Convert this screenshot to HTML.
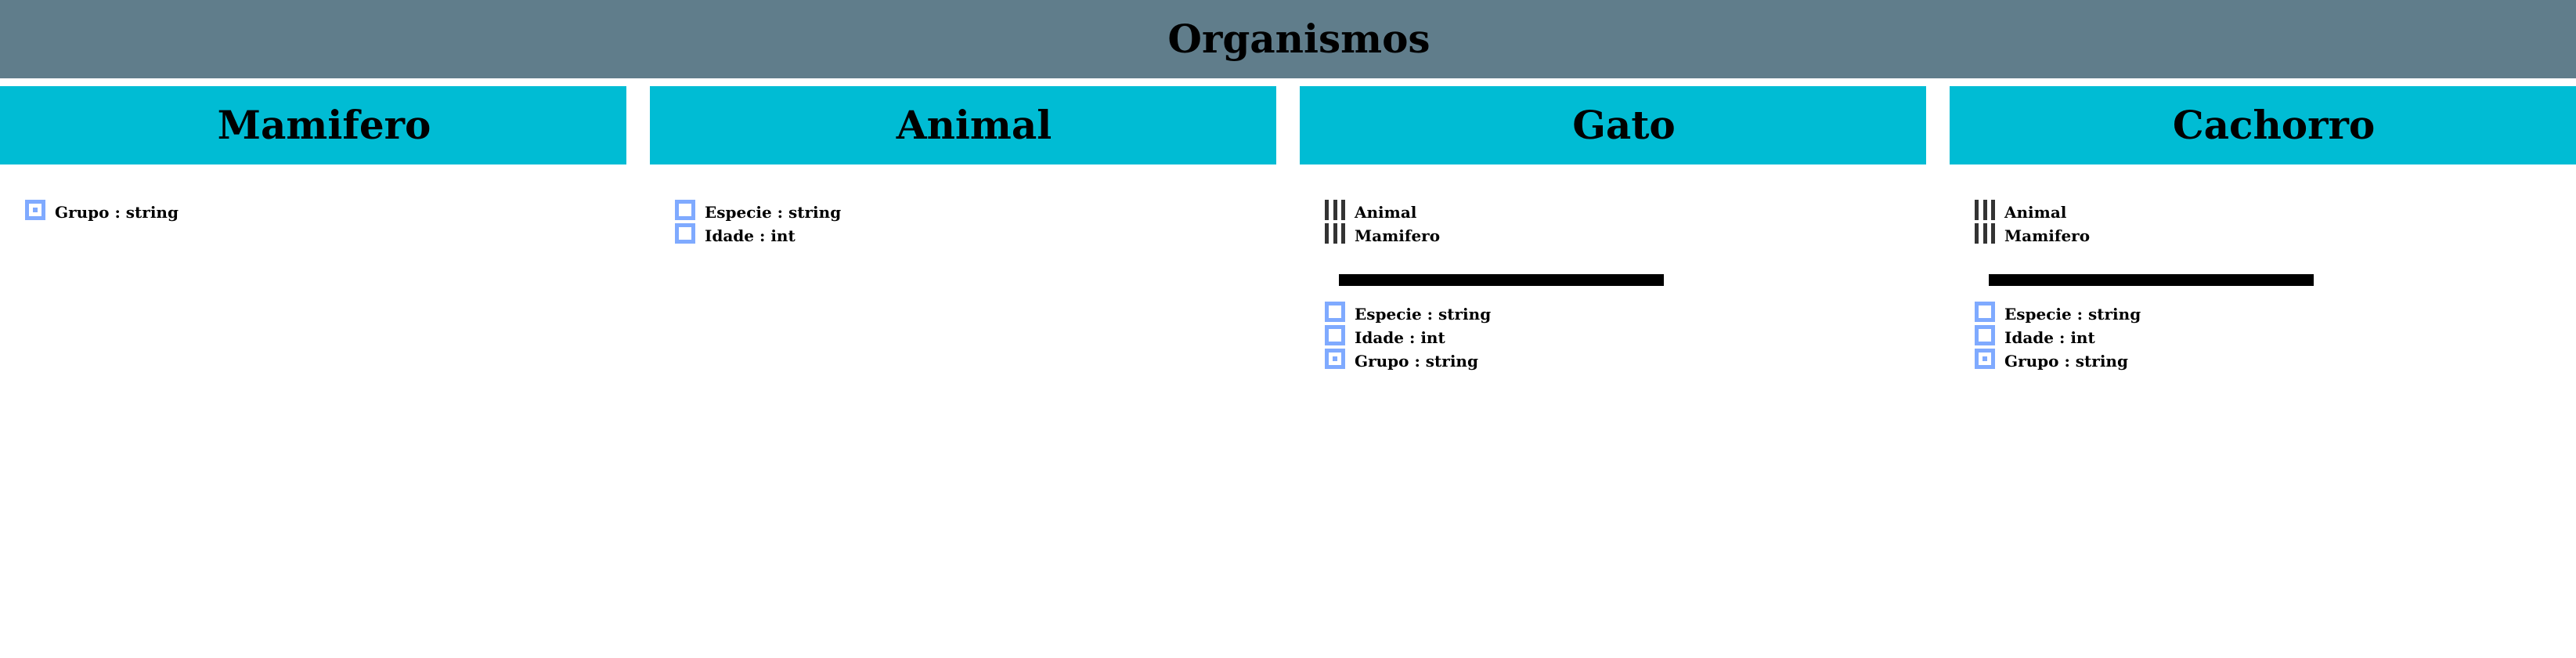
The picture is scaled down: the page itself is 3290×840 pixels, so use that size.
<!DOCTYPE html>
<html><head><meta charset="utf-8"><style>
*{margin:0;padding:0;box-sizing:border-box}
body{width:3290px;height:840px;background:#fff;position:relative;overflow:hidden;font-family:"DejaVu Serif","Liberation Serif",serif}
.top{position:absolute;left:0;top:0;width:3290px;height:100px;background:#607d8b;text-align:center;font-weight:bold;font-size:50px;line-height:100px;color:#000;padding-left:28px}
.card{position:absolute;top:110px;width:800px;height:100px;background:#00bcd4;text-align:center;font-weight:bold;font-size:50px;line-height:100px;color:#000;padding-left:28px}
.row{position:absolute;height:26px;font-size:20px;line-height:26px;color:#000;white-space:nowrap;font-weight:bold}
.row span{position:absolute;left:38px;top:3px}
.cb{position:absolute;left:0;top:0;width:26px;height:26px;border:5px solid #7faaff}
.cb.d::after{content:"";position:absolute;left:5px;top:5px;width:6px;height:6px;background:#7faaff}
.bars{position:absolute;left:0;top:0;width:26px;height:26px}
.bars i{position:absolute;top:0;width:5px;height:26px;background:#333}
.hr{position:absolute;height:15px;background:#000}
</style></head><body>
<div class="top">Organismos</div>
<div class="card" style="left:0">Mamifero</div>
<div class="card" style="left:830px">Animal</div>
<div class="card" style="left:1660px">Gato</div>
<div class="card" style="left:2490px">Cachorro</div>

<div class="row" style="left:32px;top:255px"><div class="cb d"></div><span>Grupo : string</span></div>

<div class="row" style="left:862px;top:255px"><div class="cb"></div><span>Especie : string</span></div>
<div class="row" style="left:862px;top:285px"><div class="cb"></div><span>Idade : int</span></div>

<div class="row" style="left:1692px;top:255px"><div class="bars"><i style="left:0"></i><i style="left:11px"></i><i style="left:21px"></i></div><span>Animal</span></div>
<div class="row" style="left:1692px;top:285px"><div class="bars"><i style="left:0"></i><i style="left:11px"></i><i style="left:21px"></i></div><span>Mamifero</span></div>
<div class="hr" style="left:1710px;top:350px;width:415px"></div>
<div class="row" style="left:1692px;top:385px"><div class="cb"></div><span>Especie : string</span></div>
<div class="row" style="left:1692px;top:415px"><div class="cb"></div><span>Idade : int</span></div>
<div class="row" style="left:1692px;top:445px"><div class="cb d"></div><span>Grupo : string</span></div>

<div class="row" style="left:2522px;top:255px"><div class="bars"><i style="left:0"></i><i style="left:11px"></i><i style="left:21px"></i></div><span>Animal</span></div>
<div class="row" style="left:2522px;top:285px"><div class="bars"><i style="left:0"></i><i style="left:11px"></i><i style="left:21px"></i></div><span>Mamifero</span></div>
<div class="hr" style="left:2540px;top:350px;width:415px"></div>
<div class="row" style="left:2522px;top:385px"><div class="cb"></div><span>Especie : string</span></div>
<div class="row" style="left:2522px;top:415px"><div class="cb"></div><span>Idade : int</span></div>
<div class="row" style="left:2522px;top:445px"><div class="cb d"></div><span>Grupo : string</span></div>
</body></html>
